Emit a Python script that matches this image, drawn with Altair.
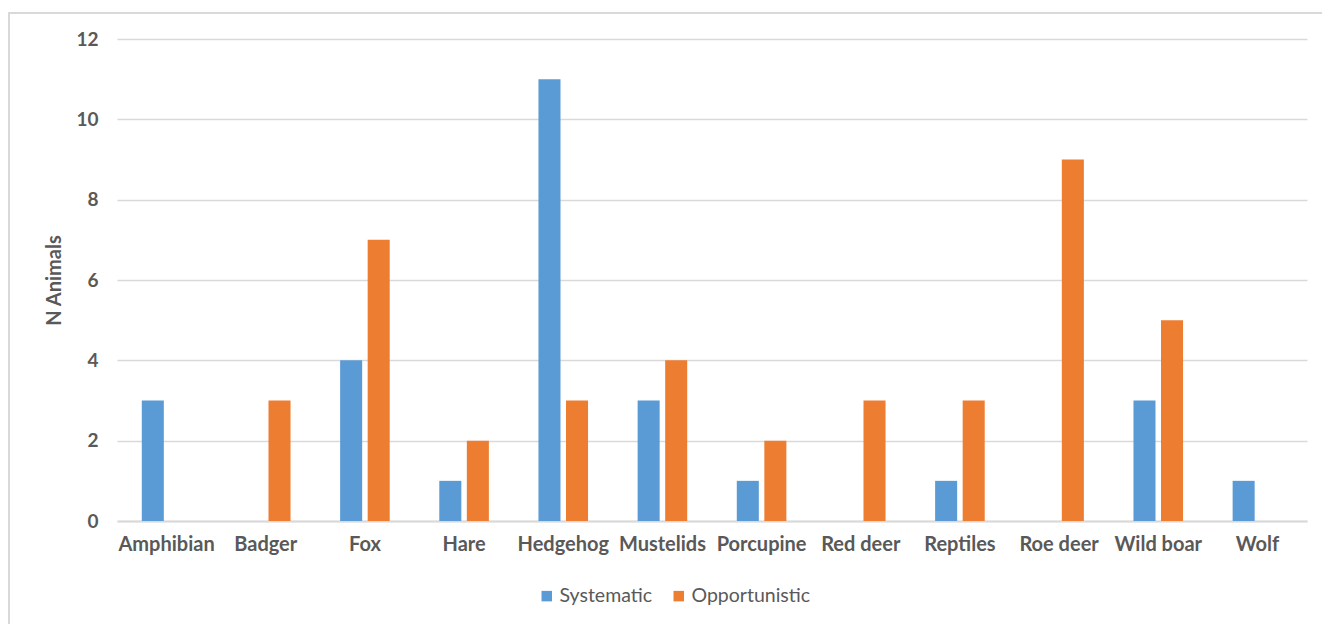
import altair as alt
import pandas as pd

categories = ["Amphibian", "Badger", "Fox", "Hare", "Hedgehog", "Mustelids",
              "Porcupine", "Red deer", "Reptiles", "Roe deer", "Wild boar", "Wolf"]
systematic = [3, 0, 4, 1, 11, 3, 1, 0, 1, 0, 3, 1]
opportunistic = [0, 3, 7, 2, 3, 4, 2, 3, 3, 9, 5, 0]
series = ["Systematic", "Opportunistic"]
colors = ["#5B9BD5", "#ED7D31"]

rows = []
for i, c in enumerate(categories):
    rows.append({"Species": c, "Method": series[0], "N": systematic[i]})
    rows.append({"Species": c, "Method": series[1], "N": opportunistic[i]})
df = pd.DataFrame(rows)

FONT = "Lato"
GREY = "#595959"
LINE = "#d9d9d9"

bars = alt.Chart(df).mark_bar().encode(
    x=alt.X("Species:N", sort=categories, title=None,
            scale=alt.Scale(paddingInner=0.5, paddingOuter=0.25),
            axis=alt.Axis(labelAngle=0, labelFont=FONT, labelFontSize=20,
                          labelFontWeight="bold", labelColor=GREY, labelPadding=13,
                          ticks=False, domainColor=LINE, domainWidth=2)),
    xOffset=alt.XOffset("Method:N", sort=series,
                        scale=alt.Scale(paddingInner=0.2)),
    y=alt.Y("N:Q", title="N Animals",
            scale=alt.Scale(domain=[0, 12]),
            axis=alt.Axis(values=[0, 2, 4, 6, 8, 10, 12], domain=False, ticks=False,
                          gridColor=LINE, gridWidth=1.5, labelFont=FONT,
                          labelFontSize=19, labelFontWeight="bold", labelColor=GREY,
                          labelPadding=19, titleFont=FONT, titleFontSize=20,
                          titleFontWeight="bold", titleColor=GREY, titlePadding=11)),
    color=alt.Color("Method:N", sort=series,
                    scale=alt.Scale(domain=series, range=colors),
                    legend=alt.Legend(title=None, orient="none", direction="horizontal",
                                      legendX=420, legendY=547, symbolType="square",
                                      symbolSize=110, symbolStrokeWidth=0,
                                      labelFont=FONT, labelFontSize=19.5,
                                      labelColor=GREY, columnPadding=16,
                                      labelOffset=3)),
)

# outer frame around the whole figure
frame = alt.Chart(pd.DataFrame({"a": [0]})).mark_rect(
    fill=None, stroke=LINE, strokeWidth=2, clip=False
).encode(
    x=alt.value(-108), x2=alt.value(1215),
    y=alt.value(-26), y2=alt.value(600),
)

chart = alt.layer(bars, frame).properties(
    width=1190, height=482,
    autosize=alt.AutoSizeParams(type="none"),
    padding={"left": 117, "top": 39, "right": 15, "bottom": 103},
    background="white",
).configure_view(stroke=None)

chart.save("out.html", embed_options={"renderer": "svg", "actions": False})
